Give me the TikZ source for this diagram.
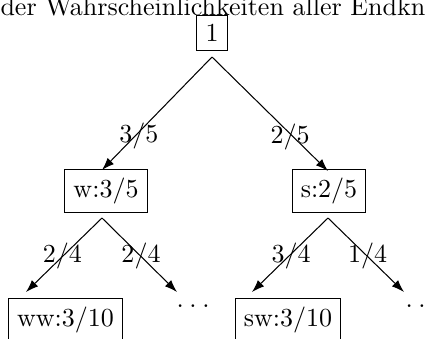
\documentclass[tikz,border=0pt]{standalone}
\usetikzlibrary{arrows.meta}
\begin{document}
\begin{tikzpicture}[x=0.3846pt,y=-0.3846pt,
  box/.style={draw, inner sep=3.33pt, line width=0.4pt},
  conn/.style={-{Latex[length=4.8pt,width=3.4pt]}, line width=0.4pt},
  lab/.style={inner sep=0pt},
  dotsnode/.style={anchor=base west, inner sep=0pt}]
\useasboundingbox (0,0) rectangle (427,338);
\clip (0,0) rectangle (427,338);
% title line (cut by the frame)
\node[anchor=base west, inner sep=0pt] (title) at (0,15.5) {der Wahrscheinlichkeiten aller Endkn};
% nodes
\node[box, anchor=north] (n1) at (212,15) {1};
\node[box, anchor=north] (w) at (106,169) {w:3/5};
\node[box, anchor=north] (s) at (329,169) {s:2/5};
\node[box, anchor=north] (ww) at (65.5,298) {ww:3/10};
\node[box, anchor=north] (sw) at (288,298) {sw:3/10};
\node[dotsnode] (wd) at (176,307.5) {.\hspace{2.2pt}.\hspace{2.2pt}.};
\node[dotsnode] (sd) at (405,307.5) {.\hspace{2.2pt}.\hspace{2.2pt}.};
% connector ends
\coordinate (a1) at (212,57);
\coordinate (aw) at (102,218);
\coordinate (as) at (328,218);
\coordinate (tw) at (102,170);
\coordinate (ts) at (328,171);
\coordinate (tww) at (26,292);
\coordinate (twd) at (177,292);
\coordinate (tsw) at (252,292);
\coordinate (tsd) at (404,292);
% connectors
\draw[conn] (a1) -- node[lab, pos=0.7, xshift=1.5pt] {3/5} (tw);
\draw[conn] (a1) -- node[lab, pos=0.7, xshift=-1.2pt] {2/5} (ts);
\draw[conn] (aw) -- node[lab, pos=0.52] {2/4} (tww);
\draw[conn] (aw) -- node[lab, pos=0.52] {2/4} (twd);
\draw[conn] (as) -- node[lab, pos=0.52, xshift=1pt] {3/4} (tsw);
\draw[conn] (as) -- node[lab, pos=0.52] {1/4} (tsd);
\end{tikzpicture}
\end{document}
